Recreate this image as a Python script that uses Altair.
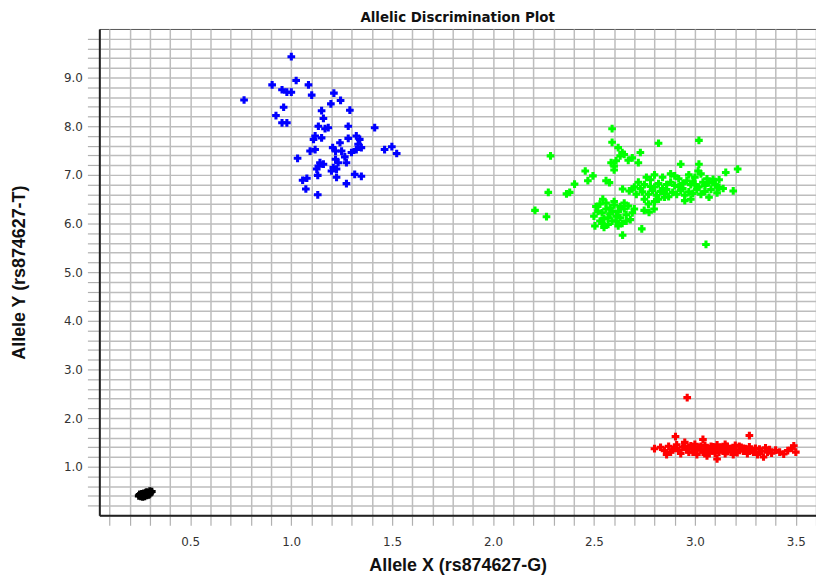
import altair as alt
import pandas as pd

# ---- data ----
black_x = [0.245, 0.25, 0.255, 0.26, 0.265, 0.27, 0.275, 0.28, 0.285, 0.29, 0.295, 0.30, 0.305, 0.30, 0.29, 0.28, 0.27, 0.26, 0.25, 0.31, 0.30, 0.285, 0.275, 0.265, 0.295]
black_y = [0.40, 0.42, 0.39, 0.41, 0.43, 0.40, 0.42, 0.44, 0.41, 0.43, 0.45, 0.47, 0.48, 0.44, 0.46, 0.47, 0.45, 0.44, 0.43, 0.49, 0.50, 0.48, 0.39, 0.38, 0.42]

blue_x = [1.001, 0.767, 0.906, 1.025, 1.086, 0.955, 0.979, 1.001, 1.102, 1.212, 1.245, 1.197, 0.963, 1.151,
          1.291, 0.925, 1.160, 0.955, 0.979, 1.135, 1.168, 1.184, 1.283, 1.414, 1.119, 1.111, 1.151, 1.283,
          1.323, 1.340, 1.332, 1.348, 1.323, 1.299, 1.463, 1.499, 1.523, 1.094, 1.119, 1.206, 1.220, 1.250,
          1.242, 1.032, 1.266, 1.220, 1.233, 1.274, 1.143, 1.135, 1.127, 1.160, 1.209, 1.225, 1.200, 1.057,
          1.078, 1.132, 1.225, 1.315, 1.348, 1.274, 1.073, 1.132]
blue_y = [9.43, 8.54, 8.85, 8.94, 8.85, 8.75, 8.70, 8.70, 8.64, 8.68, 8.53, 8.46, 8.39, 8.32,
          8.33, 8.22, 8.16, 8.07, 8.07, 8.00, 7.95, 7.97, 8.00, 7.97, 7.80, 7.73, 7.76, 7.75,
          7.80, 7.73, 7.63, 7.56, 7.52, 7.46, 7.52, 7.58, 7.44, 7.49, 7.52, 7.56, 7.49, 7.49,
          7.66, 7.34, 7.37, 7.32, 7.25, 7.25, 7.25, 7.18, 7.12, 7.22, 7.15, 7.12, 7.08, 6.89,
          6.93, 6.99, 6.95, 7.01, 6.97, 6.82, 6.71, 6.59]

green_x = [2.59, 2.59, 2.62, 2.64, 2.63, 2.61, 2.585, 2.60, 2.69, 2.73, 2.72, 2.65, 2.67, 2.60,
           2.82, 3.02, 2.285, 2.457, 3.153, 3.212, 2.495, 2.47, 2.56, 2.577, 2.404, 2.38, 2.364, 2.274,
           2.208, 2.265, 2.737, 2.642, 3.055,
           2.93, 3.02, 3.016, 3.09, 3.07, 3.12, 3.19, 3.07, 2.95, 2.98, 2.82, 2.85,
           2.72, 2.75, 2.78, 2.80, 2.82, 2.84, 2.86, 2.88, 2.90, 2.92, 2.94, 2.96, 2.98, 3.00, 3.02, 3.04,
           3.06, 3.08, 3.10, 3.12, 3.14, 2.74, 2.77, 2.79, 2.81, 2.83, 2.85, 2.87, 2.89, 2.91, 2.93, 2.95,
           2.97, 2.99, 3.01, 3.03, 3.05, 2.76, 2.80, 2.88, 2.97, 3.03, 2.90, 2.70, 2.73, 2.86, 2.92, 2.99,
           3.05, 3.09, 3.11, 2.84, 2.94, 3.00, 2.78, 2.75, 2.77, 2.80, 2.749, 2.773, 2.798, 2.71, 2.69,
           2.675, 2.642, 2.544,
           2.51, 2.50, 2.505, 2.53, 2.56, 2.58, 2.55, 2.60, 2.62, 2.59, 2.57, 2.63, 2.65, 2.64, 2.66,
           2.68, 2.67, 2.54, 2.61, 2.58, 2.55, 2.53, 2.62, 2.69, 2.60, 2.56, 2.52, 2.65, 2.70, 2.63,
           2.57, 2.59, 2.61, 2.66, 2.54]
green_y = [7.95, 7.67, 7.56, 7.46, 7.39, 7.29, 7.25, 7.18, 7.35, 7.46, 7.25, 7.42, 7.30, 7.10,
           7.65, 7.71, 7.39, 7.08, 7.05, 7.12, 6.98, 6.88, 6.88, 6.84, 6.81, 6.64, 6.61, 6.64,
           6.27, 6.14, 5.89, 5.76, 5.57,
           7.22, 7.22, 7.08, 6.91, 6.84, 6.74, 6.67, 6.54, 6.47, 6.50, 6.50, 6.54,
           6.85, 6.80, 6.90, 6.75, 6.82, 6.95, 6.70, 6.85, 6.78, 6.92, 6.72, 6.88, 6.80, 6.95, 6.75, 6.85,
           6.92, 6.70, 6.80, 6.90, 6.72, 6.65, 6.60, 6.68, 6.58, 6.66, 6.62, 6.55, 6.64, 6.60, 6.68, 6.58,
           6.65, 6.62, 6.70, 6.60, 6.66, 6.95, 7.00, 7.02, 7.00, 7.02, 6.98, 6.75, 6.72, 6.80, 6.76, 6.86,
           6.78, 6.86, 6.63, 6.72, 6.82, 6.80, 6.76, 6.50, 6.40, 6.45, 6.27, 6.23, 6.30, 6.60, 6.71,
           6.67, 6.71, 6.50,
           6.35, 6.15, 5.95, 6.40, 6.30, 6.20, 6.10, 6.38, 6.25, 6.05, 5.98, 6.12, 6.30, 6.00, 6.18,
           6.08, 6.36, 6.22, 6.15, 6.32, 5.92, 6.05, 5.95, 6.22, 6.45, 6.42, 6.25, 6.42, 6.30, 6.35,
           6.12, 6.25, 6.05, 6.05, 6.00]

red_x = [2.80, 2.83, 2.85, 2.87, 2.88, 2.90, 2.904, 2.91, 2.92, 2.93, 2.94, 2.95, 2.96, 2.97, 2.98,
         2.99, 3.00, 3.00, 3.01, 3.02, 3.03, 3.04, 3.04, 3.05, 3.06, 3.07, 3.08, 3.09, 3.10, 3.11,
         3.11, 3.12, 3.13, 3.14, 3.15, 3.16, 3.17, 3.18, 3.19, 3.20, 3.21, 3.22, 3.23, 3.24, 3.25,
         3.26, 3.27, 3.27, 3.28, 3.29, 3.30, 3.31, 3.32, 3.33, 3.34, 3.35, 3.36, 3.37, 3.38, 3.40,
         3.42, 3.44, 3.46, 3.48, 3.49, 3.50, 2.962,
         2.97, 3.01, 3.05, 3.07, 3.09, 3.12, 3.14, 3.16, 3.18, 3.20, 3.22, 3.03, 2.95, 2.99, 3.10,
         3.15, 3.24, 3.26, 2.86, 2.89, 3.06, 3.19]
red_y = [1.37, 1.40, 1.33, 1.42, 1.30, 1.38, 1.62, 1.45, 1.33, 1.27, 1.40, 1.50, 1.35, 1.30, 1.43,
         1.38, 1.32, 1.46, 1.25, 1.40, 1.35, 1.56, 1.30, 1.44, 1.38, 1.28, 1.42, 1.33, 1.37, 1.16,
         1.45, 1.30, 1.40, 1.34, 1.27, 1.42, 1.36, 1.31, 1.39, 1.44, 1.29, 1.35, 1.40, 1.32, 1.37,
         1.27, 1.64, 1.41, 1.34, 1.30, 1.38, 1.25, 1.36, 1.32, 1.20, 1.39, 1.30, 1.35, 1.28, 1.34,
         1.30, 1.26, 1.33, 1.38, 1.43, 1.30, 2.42,
         1.40, 1.36, 1.31, 1.37, 1.41, 1.35, 1.39, 1.31, 1.37, 1.33, 1.42, 1.42, 1.42, 1.30, 1.28,
         1.46, 1.38, 1.33, 1.25, 1.35, 1.22, 1.25]

groups = ["Black", "Blue", "Green", "Red"]
group_colors = ["#000000", "#0000ff", "#00ff00", "#ff0000"]

x_ticks = [round(0.1 * i, 1) for i in range(1, 37)]
y_ticks = [round(0.2 * i, 1) for i in range(1, 50)]

title_text = "Allelic Discrimination Plot"
x_title = "Allele X (rs874627-G)"
y_title = "Allele Y (rs874627-T)"

rows = []
for name, xs, ys in [("Black", black_x, black_y), ("Blue", blue_x, blue_y),
                     ("Green", green_x, green_y), ("Red", red_x, red_y)]:
    for a, b in zip(xs, ys):
        rows.append({"x": a, "y": b, "g": name})
df = pd.DataFrame(rows)

label_font = "DejaVu Sans, sans-serif"
title_font = "Liberation Sans, Arial, sans-serif"

chart = alt.Chart(df).mark_point(shape="cross", filled=True, size=60, opacity=1,
                                 strokeWidth=1).encode(
    x=alt.X("x:Q", scale=alt.Scale(domain=[0.05, 3.6], nice=False, zero=False),
            axis=alt.Axis(values=x_ticks, title=x_title,
                          labelExpr="abs(round(datum.value*10)) % 5 == 0 ? format(datum.value, '.1f') : ''",
                          labelOverlap=False, labelFlush=False,
                          grid=True, gridColor="#bdbdbd", gridWidth=1.5, gridOpacity=1,
                          domainColor="#222222", domainWidth=2,
                          tickColor="#b0b0b0", tickSize=10, tickWidth=1.2,
                          labelPadding=11, labelFont=label_font, labelFontSize=12,
                          labelColor="#333333",
                          titleFont=title_font, titleFontSize=18, titleFontWeight="bold",
                          titleColor="#111111", titleY=51, titleBaseline="middle")),
    y=alt.Y("y:Q", scale=alt.Scale(domain=[0, 10], nice=False, zero=False),
            axis=alt.Axis(values=y_ticks, title=y_title,
                          labelExpr="abs(round(datum.value*10)) % 10 == 0 ? format(datum.value, '.1f') : ''",
                          labelOverlap=False, labelFlush=False,
                          grid=True, gridColor="#bdbdbd", gridWidth=1.5, gridOpacity=1,
                          domainColor="#222222", domainWidth=2,
                          tickColor="#b0b0b0", tickSize=12, tickWidth=1.2,
                          labelPadding=5, labelFont=label_font, labelFontSize=12,
                          labelColor="#333333",
                          titleFont=title_font, titleFontSize=18, titleFontWeight="bold",
                          titleColor="#111111", titleX=-80, titleBaseline="middle")),
    color=alt.Color("g:N", scale=alt.Scale(domain=groups, range=group_colors), legend=None),
).properties(
    width=722, height=490,
    title=alt.TitleParams(title_text, font="'Liberation Sans Narrow', 'DejaVu Sans Condensed', sans-serif",
                          fontSize=15, fontWeight="bold", color="#111111", anchor="middle", offset=4),
    autosize=alt.AutoSizeParams(type="none"),
    padding={"left": 92, "top": 19, "right": 0, "bottom": 60},
    background="white",
).configure_view(stroke="#555555", strokeWidth=1)

chart.save("out.html", embed_options={"renderer": "svg", "actions": False})
